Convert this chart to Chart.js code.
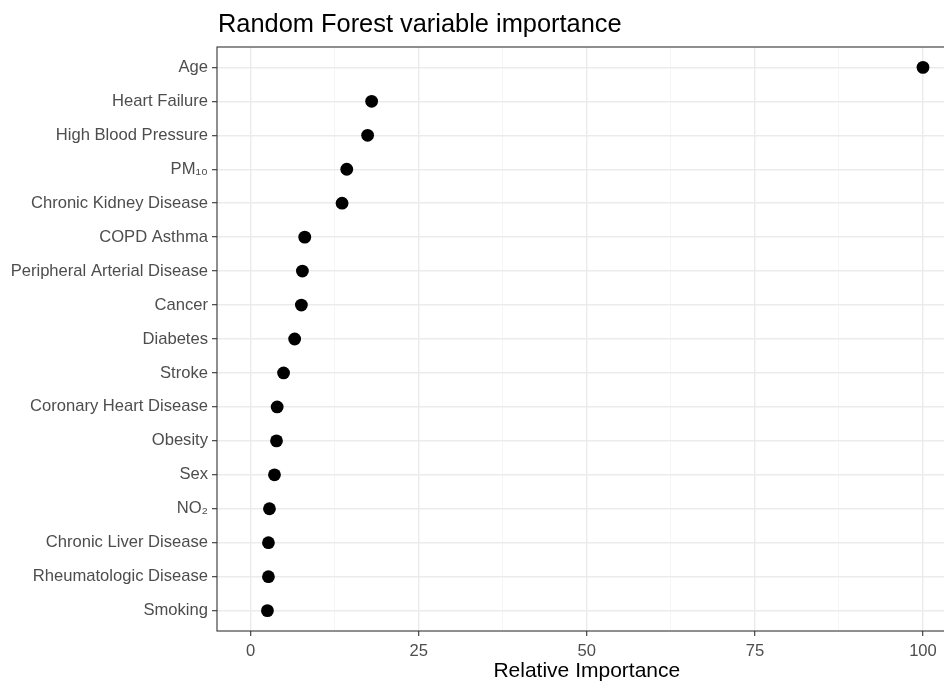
<!DOCTYPE html>
<html>
<head>
<meta charset="utf-8">
<script src="https://cdn.jsdelivr.net/npm/chart.js@4.4.1/dist/chart.umd.min.js"></script>
<style>
  html, body { margin: 0; padding: 0; background: #ffffff; overflow: hidden; }
  #wrap { width: 963px; height: 682px; }
</style>
</head>
<body>
<div id="wrap"><canvas id="c" width="963" height="682" style="width:963px;height:682px"></canvas></div>
<script>
const categories = [
  "Age", "Heart Failure", "High Blood Pressure", "PM\u2081\u2080", "Chronic Kidney Disease",
  "COPD Asthma", "Peripheral Arterial Disease", "Cancer", "Diabetes", "Stroke",
  "Coronary Heart Disease", "Obesity", "Sex", "NO\u2082", "Chronic Liver Disease",
  "Rheumatologic Disease", "Smoking"
];
const importance = [
  100, 18.0, 17.4, 14.3, 13.6,
  8.05, 7.7, 7.55, 6.55, 4.9,
  3.95, 3.85, 3.55, 2.8, 2.65,
  2.65, 2.5
];
const xTickLabels = [0, 25, 50, 75, 100];
const titleText = "Random Forest variable importance";
const xTitle = "Relative Importance";

const FONT = "'Liberation Sans', Arial, Helvetica, sans-serif";

const panelPlugin = {
  id: 'panel',
  afterDatasetsDraw(chart) {
    const a = chart.chartArea, ctx = chart.ctx;
    ctx.save();
    ctx.strokeStyle = '#333333';
    ctx.lineWidth = 1.1;
    ctx.strokeRect(a.left, a.top, a.right - a.left, a.bottom - a.top);
    ctx.restore();
  },
  afterDraw(chart) {
    const a = chart.chartArea, ctx = chart.ctx;
    ctx.save();
    ctx.fillStyle = '#000000';
    ctx.font = "25.4px " + FONT;
    ctx.textAlign = 'left';
    ctx.textBaseline = 'alphabetic';
    ctx.fillText(titleText, a.left + 1, 31.5);
    ctx.restore();
  }
};

new Chart(document.getElementById('c'), {
  type: 'scatter',
  data: {
    datasets: [{
      data: importance.map((v, i) => ({ x: v, y: i })),
      backgroundColor: '#000000',
      borderColor: '#000000',
      pointRadius: 6.4,
      pointHoverRadius: 6.4,
      borderWidth: 0
    }]
  },
  options: {
    responsive: false,
    animation: false,
    devicePixelRatio: 1,
    layout: { padding: { top: 47, left: 0, right: 0, bottom: 0 } },
    plugins: { legend: { display: false }, tooltip: { enabled: false } },
    scales: {
      x: {
        type: 'linear',
        min: -5,
        max: 105,
        afterFit(scale) { scale.height = 51; },
        ticks: {
          stepSize: 12.5,
          includeBounds: false,
          autoSkip: false,
          maxRotation: 0,
          padding: 5,
          color: '#4d4d4d',
          font: { family: FONT, size: 16.6 },
          callback: (v) => xTickLabels.includes(v) ? String(v) : ''
        },
        grid: {
          drawOnChartArea: true,
          color: (ctx) => (ctx.tick && xTickLabels.includes(ctx.tick.value)) ? '#ebebeb' : '#f2f2f2',
          lineWidth: (ctx) => (ctx.tick && xTickLabels.includes(ctx.tick.value)) ? 1.4 : 0.8,
          tickColor: (ctx) => (ctx.tick && xTickLabels.includes(ctx.tick.value)) ? '#333333' : 'rgba(0,0,0,0)',
          tickLength: 5,
          tickWidth: 1.1
        },
        border: { display: false },
        title: {
          display: true,
          text: xTitle,
          color: '#000000',
          font: { family: FONT, size: 21, lineHeight: 1.0 },
          padding: { top: 0, bottom: 0 }
        }
      },
      y: {
        type: 'linear',
        min: -0.6,
        max: 16.6,
        reverse: true,
        afterFit(scale) { scale.width = 217; },
        ticks: {
          stepSize: 1,
          includeBounds: false,
          autoSkip: false,
          padding: 4,
          color: '#4d4d4d',
          font: { family: FONT, size: 16.6 },
          callback: (v) => categories[v] !== undefined ? categories[v] : ''
        },
        grid: {
          color: '#ebebeb',
          lineWidth: 1.4,
          tickColor: '#333333',
          tickLength: 5,
          tickWidth: 1.1
        },
        border: { display: false }
      }
    }
  },
  plugins: [panelPlugin]
});
</script>
</body>
</html>
